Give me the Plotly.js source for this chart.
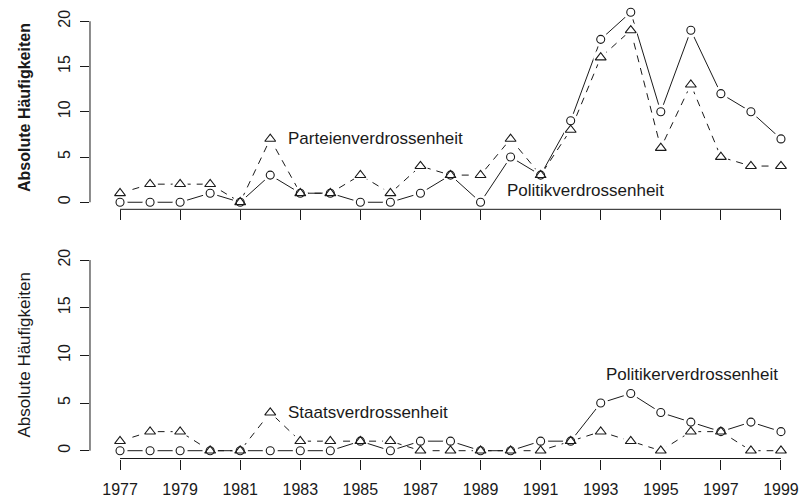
<!DOCTYPE html>
<html>
<head>
<meta charset="utf-8">
<script src="https://cdn.plot.ly/plotly-3.0.1.min.js"></script>
<style>html,body{margin:0;padding:0;background:#fff;}#chart{width:802px;height:501px;}</style>
</head>
<body>
<div id="chart"></div>
<script>
// ---- data ----
var years = [1977,1978,1979,1980,1981,1982,1983,1984,1985,1986,1987,1988,1989,1990,1991,1992,1993,1994,1995,1996,1997,1998,1999];
var politik    = [0,0,0,1,0,3,1,1,0,0,1,3,0,5,3,9,18,21,10,19,12,10,7];   // top, circles, solid
var parteien   = [1,2,2,2,0,7,1,1,3,1,4,3,3,7,3,8,16,19,6,13,5,4,4];     // top, triangles, dashed
var politiker  = [0,0,0,0,0,0,0,0,1,0,1,1,0,0,1,1,5,6,4,3,2,3,2];        // bottom, circles, solid
var staats     = [1,2,2,0,0,4,1,1,1,1,0,0,0,0,0,1,2,1,0,2,2,0,0];        // bottom, triangles, dashed
var xTicks = [1977,1979,1981,1983,1985,1987,1989,1991,1993,1995,1997,1999];
var yTicks = [0,5,10,15,20];
var yTitle = "Absolute Häufigkeiten";
var labels = {
  parteien: "Parteienverdrossenheit",
  politik: "Politikverdrossenheit",
  staats: "Staatsverdrossenheit",
  politiker: "Politikerverdrossenheit"
};

var ink = '#1a1a1a';
var FONT = 'Liberation Sans, Arial, Helvetica, sans-serif';

var series = [
  {y: politik,   xa: 'x',  ya: 'y',  sym: 'circle-open',      size: 8,   dash: 'solid'},
  {y: parteien,  xa: 'x',  ya: 'y',  sym: 'triangle-up-open', size: 9.5, dash: '7px,6px'},
  {y: politiker, xa: 'x2', ya: 'y2', sym: 'circle-open',      size: 8,   dash: 'solid'},
  {y: staats,    xa: 'x2', ya: 'y2', sym: 'triangle-up-open', size: 9.5, dash: '7px,6px'}
];

var traces = [];
// lines
series.forEach(function(s){
  traces.push({x: years, y: s.y, xaxis: s.xa, yaxis: s.ya, type: 'scatter', mode: 'lines',
    line: {color: ink, width: 1, dash: s.dash}, hoverinfo: 'skip', showlegend: false});
});
// white gaps around points (type = "b" look)
series.forEach(function(s){
  traces.push({x: years, y: s.y, xaxis: s.xa, yaxis: s.ya, type: 'scatter', mode: 'markers',
    marker: {symbol: 'circle', size: 15, color: '#ffffff', line: {width: 0}}, hoverinfo: 'skip', showlegend: false});
});
// point symbols
series.forEach(function(s){
  traces.push({x: years, y: s.y, xaxis: s.xa, yaxis: s.ya, type: 'scatter', mode: 'markers',
    marker: {symbol: s.sym, size: s.size, color: ink, line: {width: 1.1, color: ink}}, showlegend: false});
});

var xr = [1976.0, 1999.70];
function xaxisDef(anchor, showLabels){
  return {domain: [0.1122, 1], range: xr, anchor: anchor, showgrid: false, zeroline: false, showline: false,
    tickmode: 'array', tickvals: xTicks, ticktext: xTicks.map(String), showticklabels: showLabels,
    ticks: 'outside', ticklen: 10, tickwidth: 1, tickcolor: ink, ticklabelstandoff: 6,
    tickfont: {family: FONT, size: 16, color: ink}, fixedrange: true};
}
function yaxisDef(anchor, domain, range){
  return {domain: domain, range: range, anchor: anchor, showgrid: false, zeroline: false, showline: false,
    tickmode: 'array', tickvals: yTicks, ticktext: yTicks.map(String), tickangle: -90,
    ticks: 'outside', ticklen: 9, tickwidth: 1, tickcolor: ink, ticklabelstandoff: 4,
    tickfont: {family: FONT, size: 16, color: ink}, fixedrange: true};
}

var shapes = [
  {type: 'line', xref: 'x', yref: 'y domain', x0: xTicks[0], x1: xTicks[xTicks.length-1], y0: 0, y1: 0, line: {color: ink, width: 1}},
  {type: 'line', xref: 'x domain', yref: 'y', x0: 0, x1: 0, y0: yTicks[0], y1: yTicks[yTicks.length-1], line: {color: ink, width: 1}},
  {type: 'line', xref: 'x2', yref: 'y2 domain', x0: xTicks[0], x1: xTicks[xTicks.length-1], y0: 0, y1: 0, line: {color: ink, width: 1}},
  {type: 'line', xref: 'x2 domain', yref: 'y2', x0: 0, x1: 0, y0: yTicks[0], y1: yTicks[yTicks.length-1], line: {color: ink, width: 1}}
];

var labFont = {family: FONT, size: 17, color: ink};
var annotations = [
  {xref: 'x', yref: 'y', x: 1985.5, y: 7, text: labels.parteien, showarrow: false, xanchor: 'center', yanchor: 'middle', font: labFont},
  {xref: 'x', yref: 'y', x: 1992.5, y: 1.3, text: labels.politik, showarrow: false, xanchor: 'center', yanchor: 'middle', font: labFont},
  {xref: 'x2', yref: 'y2', x: 1985.25, y: 4, text: labels.staats, showarrow: false, xanchor: 'center', yanchor: 'middle', font: labFont},
  {xref: 'x2', yref: 'y2', x: 1996.05, y: 8, text: labels.politiker, showarrow: false, xanchor: 'center', yanchor: 'middle', font: labFont},
  {xref: 'paper', yref: 'paper', x: 24/802, y: 1 - 108/501, text: yTitle, textangle: -90, showarrow: false,
    xanchor: 'center', yanchor: 'middle', font: {family: FONT, size: 16, color: ink, weight: 'bold'}},
  {xref: 'paper', yref: 'paper', x: 24/802, y: 1 - 355.5/501, text: yTitle, textangle: -90, showarrow: false,
    xanchor: 'center', yanchor: 'middle', font: {family: FONT, size: 17, color: ink}}
];

var layout = {
  width: 802, height: 501,
  margin: {l: 0, r: 0, t: 0, b: 0, pad: 0},
  paper_bgcolor: '#ffffff', plot_bgcolor: '#ffffff',
  font: {family: FONT, color: ink},
  showlegend: false,
  xaxis: xaxisDef('y', false),
  yaxis: yaxisDef('x', [0.5822, 0.9908], [-0.78, 21.84]),
  xaxis2: xaxisDef('y2', true),
  yaxis2: yaxisDef('x2', [0.0848, 0.4962], [-0.82, 20.8]),
  shapes: shapes,
  annotations: annotations
};

Plotly.newPlot('chart', traces, layout, {displayModeBar: false, staticPlot: true});
</script>
</body>
</html>
